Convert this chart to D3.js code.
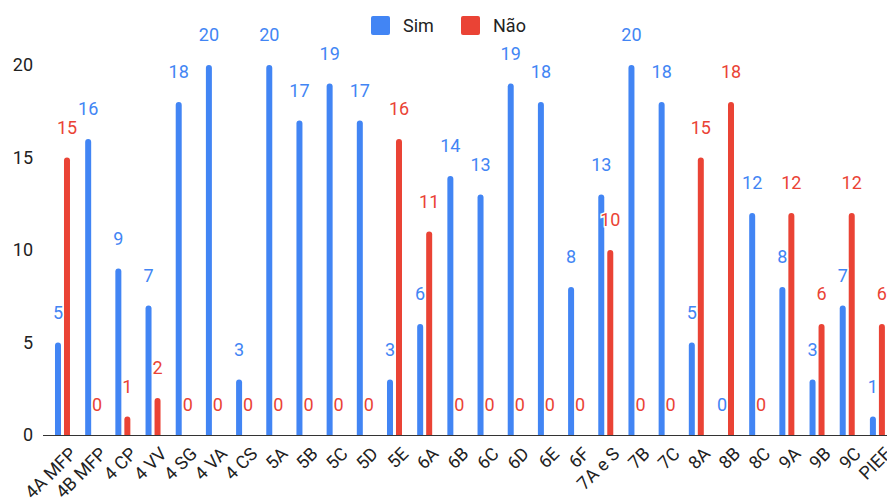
<!DOCTYPE html>
<html>
<head>
<meta charset="utf-8">
<script src="https://cdnjs.cloudflare.com/ajax/libs/d3/7.8.5/d3.min.js"></script>
<style>
  html, body { margin: 0; padding: 0; background: #fff; }
  svg { display: block; font-family: Roboto, "Noto Sans", sans-serif; }
</style>
</head>
<body>
<div id="chart"></div>
<script>
const categories = ['4A MFP', '4B MFP', '4 CP', '4 VV', '4 SG', '4 VA', '4 CS', '5A', '5B', '5C', '5D', '5E',
  '6A', '6B', '6C', '6D', '6E', '6F', '7A e S', '7B', '7C', '8A', '8B', '8C', '9A', '9B', '9C', 'PIEF'];
const simValues = [5, 16, 9, 7, 18, 20, 3, 20, 17, 19, 17, 3, 6, 14, 13, 19, 18, 8, 13, 20, 18, 5, 0, 12, 8, 3, 7, 1];
const naoValues = [15, 0, 1, 2, 0, 0, 0, 0, 0, 0, 0, 16, 11, 0, 0, 0, 0, 0, 10, 0, 0, 15, 18, 0, 12, 6, 12, 6];
const seriesNames = ['Sim', 'Não'];
const seriesColors = ['#4285f4', '#ea4335'];
const yTicks = [0, 5, 10, 15, 20];

const width = 887, height = 500;
const svg = d3.select('#chart').append('svg')
    .attr('width', width)
    .attr('height', height);

const x = d3.scaleBand().domain(categories).range([47.4, 892.5]);
const y = d3.scaleLinear().domain([0, 20]).range([435, 65]);

const rows = categories.map((c, i) => ({ cat: c, values: [simValues[i], naoValues[i]] }));

// Legend
const legend = svg.append('g').attr('class', 'legend');
const legendX = [371, 461];
seriesNames.forEach((name, i) => {
    legend.append('rect')
        .attr('x', legendX[i]).attr('y', 16)
        .attr('width', 19).attr('height', 19)
        .attr('rx', 2)
        .attr('fill', seriesColors[i]);
    legend.append('text')
        .attr('x', legendX[i] + 32).attr('y', 25.5)
        .attr('dy', '0.35em')
        .attr('font-size', '18px')
        .attr('fill', '#222')
        .text(name);
});

// Y tick labels (no gridlines)
svg.append('g')
    .selectAll('text')
    .data(yTicks)
    .join('text')
    .attr('x', 33)
    .attr('y', d => y(d))
    .attr('dy', '0.35em')
    .attr('text-anchor', 'end')
    .attr('font-size', '18px')
    .attr('fill', '#222')
    .text(d => d);

// Bars
const barW = 6;
const offsets = [-4.5, 4.5];
const groups = svg.append('g').attr('class', 'bars')
    .selectAll('g')
    .data(rows)
    .join('g')
    .attr('transform', d => `translate(${x(d.cat) + x.bandwidth() / 2},0)`);

function barPath(v, off) {
    const x0 = off - barW / 2, x1 = off + barW / 2;
    const top = y(v), base = y(0);
    const r = Math.min(barW / 2, base - top);
    return `M${x0},${base}V${top + r}A${r},${r} 0 0 1 ${x1},${top + r}V${base}Z`;
}

groups.selectAll('path')
    .data(d => d.values.map((v, i) => ({ v, i })))
    .join('path')
    .filter(d => d.v > 0)
    .attr('d', d => barPath(d.v, offsets[d.i]))
    .attr('fill', d => seriesColors[d.i]);

// Axis line
svg.append('line')
    .attr('x1', 43).attr('x2', width)
    .attr('y1', y(0) + 0.5).attr('y2', y(0) + 0.5)
    .attr('stroke', '#333')
    .attr('stroke-width', 1);

// Value labels
groups.selectAll('text.val')
    .data(d => d.values.map((v, i) => ({ v, i })))
    .join('text')
    .attr('class', 'val')
    .attr('x', d => offsets[d.i])
    .attr('y', d => y(d.v) - 30)
    .attr('dy', '0.35em')
    .attr('text-anchor', 'middle')
    .attr('font-size', '18px')
    .attr('fill', d => seriesColors[d.i])
    .attr('stroke', '#fff')
    .attr('stroke-width', 3)
    .attr('paint-order', 'stroke')
    .text(d => d.v);

// Category labels, rotated
svg.append('g')
    .selectAll('text')
    .data(categories)
    .join('text')
    .attr('transform', d => `translate(${x(d) + x.bandwidth() / 2 + 6},446) rotate(-45)`)
    .attr('text-anchor', 'end')
    .attr('dy', '0.7em')
    .attr('font-size', '18px')
    .attr('fill', '#222')
    .text(d => d);
</script>
</body>
</html>
